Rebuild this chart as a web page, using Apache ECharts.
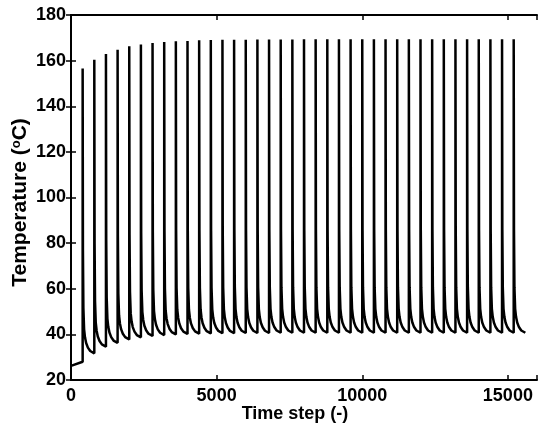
<!DOCTYPE html>
<html>
<head>
<meta charset="utf-8">
<script src="https://cdn.jsdelivr.net/npm/echarts@6/dist/echarts.min.js"></script>
<style>
  html, body { margin: 0; padding: 0; background: #fff; }
  #chart { width: 539px; height: 429px; }
</style>
</head>
<body>
<div id="chart"></div>
<script>
// ---- data ----
const startSteps = [0, 400]
const startTemps = [26.2, 28.0]

// time step of each heating spike
const spikeSteps = [
  400, 800, 1200, 1600, 2000, 2400, 2800, 3200, 3600, 4000,
  4400, 4800, 5200, 5600, 6000, 6400, 6800, 7200, 7600, 8000,
  8400, 8800, 9200, 9600, 10000, 10400, 10800, 11200, 11600, 12000,
  12400, 12800, 13200, 13600, 14000, 14400, 14800, 15200,
]

// peak temperature of each spike
const peakTemps = [
  156.6, 160.4, 162.9, 164.8, 166.3, 167.1, 167.7, 168.2, 168.5, 168.6,
  168.9, 169.0, 169.1, 169.2, 169.2, 169.3, 169.3, 169.3, 169.3, 169.4,
  169.4, 169.4, 169.4, 169.4, 169.4, 169.4, 169.4, 169.4, 169.4, 169.4,
  169.4, 169.4, 169.4, 169.4, 169.4, 169.4, 169.4, 169.4,
]

// lowest temperature at the end of each cycle (just before the next spike)
const troughTemps = [
  31.7, 34.6, 36.3, 37.8, 38.7, 39.3, 39.7, 40.0, 40.2, 40.3,
  40.4, 40.5, 40.5, 40.6, 40.6, 40.6, 40.7, 40.7, 40.7, 40.7,
  40.7, 40.7, 40.7, 40.7, 40.7, 40.7, 40.7, 40.7, 40.7, 40.7,
  40.7, 40.7, 40.7, 40.7, 40.7, 40.7, 40.7, 40.7,
]

// cooling curve after a spike: steps after the peak -> degrees above the cycle minimum
const coolLag = [10, 25, 50, 80, 120, 180, 260, 400]
const coolExcess = [45, 20, 10.5, 7, 4.5, 2.5, 1, 0]

const endStep = 15600

// ---- build the line ----
function buildSeries() {
  const pts = []
  startSteps.forEach((s, i) => pts.push([s, startTemps[i]]))
  spikeSteps.forEach((s, k) => {
    pts.push([s, peakTemps[k]])
    const last = k === spikeSteps.length - 1
    coolLag.forEach((lag, j) => {
      const t = s + lag
      if (last && t > endStep) return
      pts.push([t, troughTemps[k] + coolExcess[j]])
    })
    if (last && pts[pts.length - 1][0] < endStep) pts.push([endStep, troughTemps[k]])
  })
  return pts
}

const font = "'Liberation Sans', Arial, sans-serif"
const chart = echarts.init(document.getElementById('chart'))

const frameLine = { show: true, lineStyle: { color: '#000', width: 2 } }
const innerTick = { show: true, inside: true, length: 5, lineStyle: { color: '#000', width: 1.5 } }
const labelStyle = { color: '#000', fontFamily: font, fontWeight: 'bold', fontSize: 18 }
const yNameStyle = Object.assign({}, labelStyle, { fontSize: 21 })

chart.setOption({
  animation: false,
  backgroundColor: '#fff',
  grid: { left: 71, right: 2, top: 15, bottom: 49, outerBoundsMode: 'none', containLabel: false },
  xAxis: [
    {
      type: 'value', min: 0, max: 16000, interval: 5000,
      name: 'Time step (-)', nameLocation: 'middle', nameGap: 25, nameMoveOverlap: false,
      nameTextStyle: Object.assign({ padding: [0, 18, 0, 0] }, labelStyle),
      axisLine: frameLine, axisTick: innerTick, splitLine: { show: false },
      axisLabel: Object.assign({ margin: 7, formatter: v => (v % 5000 === 0 ? String(v) : '') }, labelStyle),
    },
    {
      type: 'value', position: 'top', min: 0, max: 16000, interval: 5000,
      axisLine: frameLine, axisTick: innerTick, splitLine: { show: false },
      axisLabel: { show: false },
    },
  ],
  yAxis: [
    {
      type: 'value', min: 20, max: 180, interval: 20,
      name: '{n|Temperature (}{s|o}{n|C)}', nameLocation: 'middle', nameGap: 40, nameMoveOverlap: false,
      nameTextStyle: {
        padding: [0, 10, 0, 0],
        rich: {
          n: yNameStyle,
          s: Object.assign({}, yNameStyle, { fontSize: 13, verticalAlign: 'top', padding: [0, 0, 7, 0] }),
        },
      },
      axisLine: frameLine, axisTick: innerTick, splitLine: { show: false },
      axisLabel: Object.assign({ margin: 5 }, labelStyle),
    },
    {
      type: 'value', position: 'right', min: 20, max: 180, interval: 20,
      axisLine: frameLine, axisTick: innerTick, splitLine: { show: false },
      axisLabel: { show: false },
    },
  ],
  series: [
    {
      type: 'line',
      xAxisIndex: 0,
      yAxisIndex: 0,
      data: buildSeries(),
      showSymbol: false,
      lineStyle: { color: '#000', width: 2.5 },
      silent: true,
    },
  ],
})
</script>
</body>
</html>
